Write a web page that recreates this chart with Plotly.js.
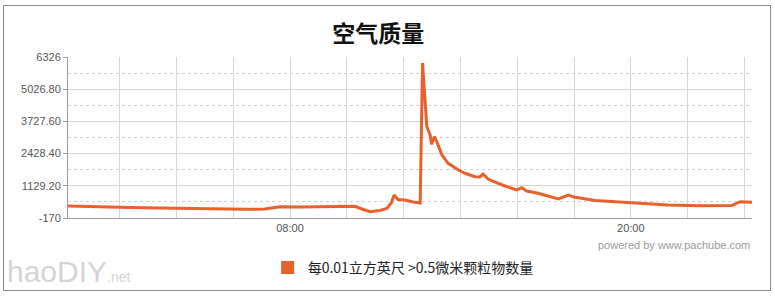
<!DOCTYPE html>
<html>
<head>
<meta charset="utf-8">
<script src="https://cdn.plot.ly/plotly-3.0.1.min.js"></script>
<style>
html,body{margin:0;padding:0;background:#fff;}
#wrap{position:relative;width:775px;height:298px;}
#chart{width:775px;height:298px;}
#frame{position:absolute;left:3px;top:5px;width:766px;height:284px;border:1px solid #8a8a8a;pointer-events:none;}
</style>
</head>
<body>
<div id="wrap">
<div id="chart"></div>
<div id="frame"></div>
</div>
<script>
// Data
const times = [
 "2012-03-01 00:11","2012-03-01 00:58","2012-03-01 01:40","2012-03-01 02:22","2012-03-01 03:25",
 "2012-03-01 04:29","2012-03-01 05:32","2012-03-01 06:27","2012-03-01 07:07","2012-03-01 07:39",
 "2012-03-01 08:21","2012-03-01 09:03","2012-03-01 09:46","2012-03-01 10:17","2012-03-01 10:32",
 "2012-03-01 10:49","2012-03-01 11:10","2012-03-01 11:25","2012-03-01 11:34","2012-03-01 11:40",
 "2012-03-01 11:48","2012-03-01 12:03","2012-03-01 12:20","2012-03-01 12:35","2012-03-01 12:40",
 "2012-03-01 12:49","2012-03-01 12:56","2012-03-01 12:59","2012-03-01 13:05","2012-03-01 13:10",
 "2012-03-01 13:21","2012-03-01 13:34","2012-03-01 13:56","2012-03-01 14:10","2012-03-01 14:31",
 "2012-03-01 14:41","2012-03-01 14:48","2012-03-01 14:59","2012-03-01 15:34","2012-03-01 15:59",
 "2012-03-01 16:09","2012-03-01 16:20","2012-03-01 16:44","2012-03-01 17:27","2012-03-01 17:48",
 "2012-03-01 18:02","2012-03-01 18:45","2012-03-01 19:54","2012-03-01 21:18","2012-03-01 22:26",
 "2012-03-01 23:04","2012-03-01 23:33","2012-03-01 23:51","2012-03-02 00:04","2012-03-02 00:16"
];
const particles = [
 314,302,294,254,234,
 213,193,181,193,286,
 274,282,294,302,193,
 84,133,221,435,758,
 577,556,476,435,6084,
 3514,3179,2804,3110,2909,
 2372,2037,1767,1634,1497,
 1485,1605,1392,1121,960,
 1053,919,826,597,758,
 665,536,447,355,326,
 314,334,488,467,463
];
const seriesName = "每0.01立方英尺 >0.5微米颗粒物数量";
const yTickVals = [-170, 1129.2, 2428.4, 3727.6, 5026.8, 6326];
const yTickText = ["-170", "1129.20", "2428.40", "3727.60", "5026.80", "6326"];
const xTickVals = ["2012-03-01 08:00", "2012-03-01 20:00"];
const xTickText = ["08:00", "20:00"];
const xRange = ["2012-03-01 00:11", "2012-03-02 00:16"];

const lineColor = "#E8602C";
const traces = [
 {type:"scatter", mode:"lines", x:times, y:particles, showlegend:false,
  line:{color:lineColor, width:3, shape:"linear"}, hoverinfo:"x+y"},
 {type:"scatter", mode:"markers", x:[null], y:[null], name:seriesName, showlegend:true,
  marker:{symbol:"square", size:13, color:lineColor}}
];
const gridC = "#d6d6d6";
const layout = {
 width:775, height:298,
 margin:{l:68, r:23, t:57, b:80},
 paper_bgcolor:"#ffffff", plot_bgcolor:"#ffffff",
 font:{family:"Liberation Sans, Arial, sans-serif", color:"#555"},
 title:{text:"<b>空气质量</b>", x:0.488, xanchor:"center", xref:"container",
  y:0.885, yanchor:"middle", yref:"container",
  font:{family:"Noto Sans CJK SC, sans-serif", size:23, color:"#111"}},
 xaxis:{type:"date", range:xRange, tickmode:"array", tickvals:xTickVals, ticktext:xTickText,
  showgrid:true, gridcolor:gridC, gridwidth:1, griddash:"solid",
  showline:true, linecolor:"#9a9a9a", linewidth:1, ticks:"", zeroline:false,
  tickfont:{size:11, color:"#555"},
  minor:{dtick:7200000, tick0:"2012-03-01 00:00", showgrid:true, gridcolor:gridC, griddash:"solid", gridwidth:1, ticks:""}},
 yaxis:{range:[-170, 6326], tickmode:"array", tickvals:yTickVals, ticktext:yTickText,
  showgrid:true, gridcolor:gridC, gridwidth:1,
  showline:true, linecolor:"#9a9a9a", linewidth:1, ticks:"outside", ticklen:4, tickcolor:"#9a9a9a",
  zeroline:false, tickfont:{size:11, color:"#555"},
  minor:{dtick:649.6, tick0:-170, showgrid:true, gridcolor:"#d0d0d0", griddash:"dot", gridwidth:1, ticks:""}},
 showlegend:true,
 legend:{orientation:"h", x:0.49, xanchor:"center", y:-0.31, yanchor:"middle",
  font:{family:"Noto Sans CJK SC, sans-serif", size:14, color:"#222"},
  itemwidth:30, bgcolor:"rgba(0,0,0,0)"},
 annotations:[
  {text:"powered by www.pachube.com", xref:"paper", yref:"paper", x:1.0, y:-0.17,
   xanchor:"right", yanchor:"middle", showarrow:false,
   font:{family:"Liberation Sans, Arial, sans-serif", size:11, color:"#9a9a9a"}},
  {text:"haoDIY<span style='font-size:14px'>.net</span>", xref:"paper", yref:"paper", x:-0.092, y:-0.335,
   xanchor:"left", yanchor:"middle", showarrow:false,
   font:{family:"Liberation Sans, Arial, sans-serif", size:30, color:"#d4d4d4"}}
 ]
};
Plotly.newPlot("chart", traces, layout, {displayModeBar:false, staticPlot:true});
</script>
</body>
</html>
